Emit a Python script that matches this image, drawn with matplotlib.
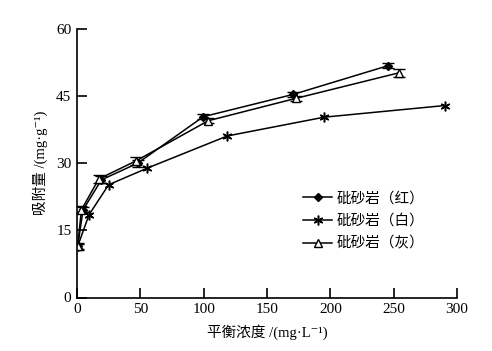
import numpy as np
import matplotlib
matplotlib.use('Agg')
import matplotlib.pyplot as plt
from matplotlib.lines import Line2D

plt.rcParams['font.family'] = ['Liberation Serif', 'Noto Sans CJK SC', 'DejaVu Serif']

# equilibrium concentration (mg/L) and adsorption (mg/g)
red_x = [0.5, 4.8, 19.3, 47.8, 99.7, 170.9, 245.5]
red_y = [11.4, 19.6, 26.3, 30.0, 40.4, 45.4, 51.8]
red_err = [0.5, 0.6, 0.8, 0.8, 0.6, 0.6, 0.5]

white_x = [0.5, 9.5, 25.0, 55.4, 118.7, 195.2, 290.4]
white_y = [11.4, 18.5, 25.2, 28.9, 36.1, 40.3, 42.9]

grey_x = [0.5, 3.5, 17.2, 46.4, 103.6, 172.8, 254.0]
grey_y = [11.4, 19.6, 26.5, 30.5, 39.5, 44.5, 50.2]
grey_err = [0.8, 0.8, 0.9, 1.0, 0.6, 0.6, 0.9]

labels = ['砒砂岩（红）', '砒砂岩（白）', '砒砂岩（灰）']

fig = plt.figure(figsize=(4.92, 3.51), dpi=100)
ax = fig.add_axes([77 / 492, 1 - 297.5 / 351, 380 / 492, 268.5 / 351])

red_style = dict(color='black', lw=1.1, marker='D', ms=4.5, mfc='black')
white_style = dict(color='black', lw=1.1, marker=(6, 2, 0), ms=7, mew=1.1)
grey_style = dict(color='black', lw=1.1, marker='^', ms=6, mfc='white')

ax.errorbar(red_x, red_y, yerr=red_err, capsize=4, elinewidth=1, **red_style)
ax.plot(white_x, white_y, **white_style)
ax.errorbar(grey_x, grey_y, yerr=grey_err, capsize=4, elinewidth=1, **grey_style)

ax.set_xlim(0, 300)
ax.set_ylim(0, 60)
ax.set_xticks(np.arange(0, 301, 50))
ax.set_yticks(np.arange(0, 61, 15))
ax.spines['top'].set_visible(False)
ax.spines['right'].set_visible(False)
ax.tick_params(direction='in', length=7, width=1.2, labelsize=11, pad=4)
for s in ['left', 'bottom']:
    ax.spines[s].set_linewidth(1.2)

ax.set_xlabel('平衡浓度 /(mg·L⁻¹)', fontsize=10.5, labelpad=6)
ax.set_ylabel('吸附量 /(mg·g⁻¹)', fontsize=10.5, labelpad=6)

handles = [Line2D([], [], **red_style),
           Line2D([], [], **white_style),
           Line2D([], [], **grey_style)]
ax.legend(handles, labels, loc='center left', bbox_to_anchor=(0.56, 0.285),
          frameon=False, fontsize=10.5, handlelength=2.0, labelspacing=0.6,
          handletextpad=0.3)

fig.savefig('out.png', dpi=100)
